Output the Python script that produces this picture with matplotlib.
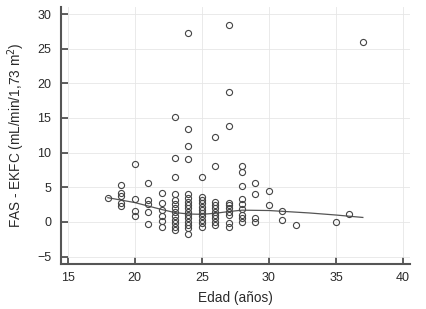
import matplotlib.pyplot as plt

# edad (años) y diferencia FAS - EKFC
edad = ([18] + [19] * 5 + [20] * 4 + [21] * 5 + [22] * 6 + [23] * 13 + [24] * 16
        + [25] * 11 + [26] * 10 + [27] * 10 + [28] * 9 + [29] * 4 + [30] * 2
        + [31] * 2 + [32, 35, 36, 37])
dif = ([3.5]
       + [5.3, 4.2, 3.8, 2.7, 2.3]
       + [8.4, 3.3, 1.6, 0.8]
       + [5.6, 3.1, 2.6, 1.4, -0.3]
       + [4.2, 2.8, 1.7, 0.9, 0.2, -0.7]
       + [15.2, 9.2, 6.5, 4.1, 3.2, 2.6, 2.0, 1.4, 0.8, 0.3, -0.2, -0.7, -1.2]
       + [27.2, 13.4, 11.0, 9.1, 4.1, 3.4, 2.9, 2.5, 2.0, 1.5, 1.0, 0.5, 0.0, -0.4, -0.9, -1.7]
       + [6.5, 3.6, 3.2, 2.7, 2.2, 1.7, 1.3, 0.8, 0.3, -0.2, -0.7]
       + [12.3, 8.1, 2.9, 2.5, 2.0, 1.5, 1.0, 0.5, 0.0, -0.4]
       + [28.4, 18.8, 13.9, 2.7, 2.5, 2.0, 1.5, 1.0, -0.2, -0.7]
       + [8.1, 7.2, 5.2, 3.3, 2.6, 1.8, 1.0, 0.5, 0.0]
       + [5.6, 4.1, 0.5, 0.0]
       + [4.5, 2.4]
       + [1.6, 0.3]
       + [-0.5, 0.0, 1.1, 26.0])

# curva de ajuste (suavizado)
fit_x = [18, 20, 22, 23, 24, 25, 26, 27, 28, 30, 33, 35, 37]
fit_y = [3.5, 2.8, 1.8, 1.35, 1.15, 1.1, 1.25, 1.5, 1.7, 1.65, 1.3, 1.0, 0.65]

xticks = [15, 20, 25, 30, 35, 40]
yticks = [-5, 0, 5, 10, 15, 20, 25, 30]

plt.rcParams['font.family'] = ['Liberation Sans', 'DejaVu Sans']

fig = plt.figure(figsize=(4.26, 3.09), dpi=100)
ax = fig.add_axes([0.143, 0.146, 0.819, 0.831])

ax.grid(True, color='#e6e6e6', linewidth=0.6)
ax.set_axisbelow(True)
ax.plot(fit_x, fit_y, color='#555555', linewidth=0.9, zorder=2)
ax.plot(edad, dif, linestyle='none', marker='o', markersize=4.4,
        markerfacecolor='none', markeredgecolor='#444444',
        markeredgewidth=0.8, zorder=3)

ax.set_xlim(14.5, 40.5)
ax.set_ylim(-6.05, 31)
ax.set_xticks(xticks)
ax.set_yticks(yticks)
ax.tick_params(direction='in', length=5, width=1.2, color='#444444',
               labelsize=9, labelcolor='#2a2a2a')
ax.tick_params(axis='x', pad=6)
ax.tick_params(axis='y', pad=7)

for s in ['top', 'right']:
    ax.spines[s].set_visible(False)
for s in ['left', 'bottom']:
    ax.spines[s].set_color('#555555')
    ax.spines[s].set_linewidth(1.5)

ax.set_xlabel('Edad (años)', fontsize=9.8, color='#2a2a2a', labelpad=5)
ax.set_ylabel('FAS - EKFC (mL/min/1,73 m$^2$)', fontsize=9.8,
              color='#2a2a2a', labelpad=7)

fig.savefig('out.png', dpi=100)
